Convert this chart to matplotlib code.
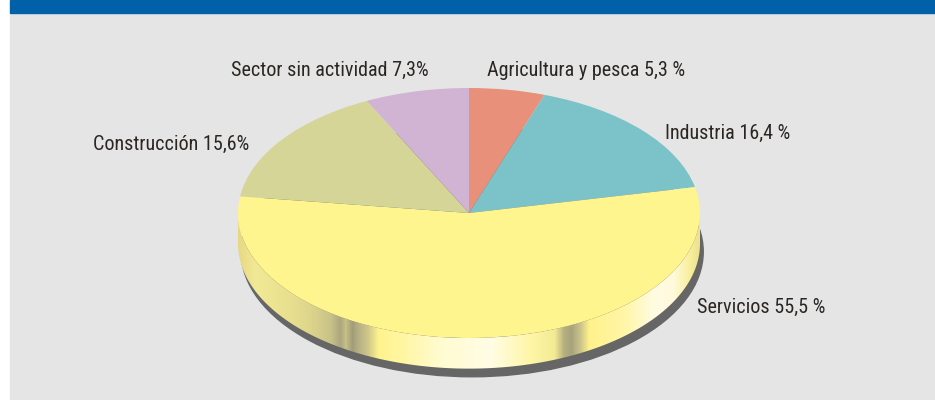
import numpy as np
import matplotlib
matplotlib.use("Agg")
import matplotlib.pyplot as plt
from matplotlib import font_manager as fm
from matplotlib.patches import Rectangle, Polygon, Ellipse
from matplotlib.colors import LinearSegmentedColormap

# ---- data ----
categories = ["Agricultura y pesca", "Industria", "Servicios", "Construcción", "Sector sin actividad"]
values = [5.3, 16.4, 55.5, 15.6, 7.3]
label_texts = ["Agricultura y pesca 5,3 %", "Industria 16,4 %", "Servicios 55,5 %",
               "Construcción 15,6%", "Sector sin actividad 7,3%"]
colors = ["#e8907a", "#7bc3c8", "#fff58e", "#d5d598", "#d1b3d4"]

available = {f.name for f in fm.fontManager.ttflist}
candidates = ["Roboto Condensed", "Open Sans Condensed", "DejaVu Sans Condensed",
              "Liberation Sans Narrow", "Roboto", "Liberation Sans", "DejaVu Sans"]
family = next((c for c in candidates if c in available), "DejaVu Sans")
plt.rcParams['font.family'] = [family, 'DejaVu Sans']

W, H = 935, 400
fig = plt.figure(figsize=(W / 100, H / 100), dpi=100)

# background
bg = fig.add_axes([0, 0, 1, 1])
bg.set_xlim(0, W)
bg.set_ylim(H, 0)
bg.axis("off")
bg.add_patch(Rectangle((0, 0), W, H, color="white"))
bg.add_patch(Rectangle((10, 13), W - 10, H - 13, color="#e5e5e5"))
bg.add_patch(Rectangle((10, 0), W - 10, 13, color="#0060a8"))

# pie axes: centre at pixel (469,213), radii 231 x 125 px
cx, cy, rx, ry = 469, 213, 231, 125
ax = fig.add_axes([0, 0, 1, 1])
ax.patch.set_alpha(0)
depth = 0.245

# shadow
ax.add_patch(Ellipse((0.014, -depth - 0.065), 2, 2, color="#666666", zorder=1))

# side wall
t = np.linspace(np.pi, 2 * np.pi, 400)
upper = np.column_stack([np.cos(t), np.sin(t)])
lower = np.column_stack([np.cos(t[::-1]), np.sin(t[::-1]) - depth])
side = Polygon(np.vstack([upper, lower]), closed=True, facecolor="none", edgecolor="none", zorder=2)
ax.add_patch(side)

stops_px = [238, 255, 285, 310, 330, 340, 345, 352, 360, 368, 378, 400, 440, 490, 530,
            555, 565, 572, 580, 590, 625, 655, 675, 690, 700]
stops_col = ["#e6d985", "#f2e996", "#eae190", "#ddd58c", "#c9c288", "#aca67e", "#c8c188",
             "#a29c7a", "#bdb685", "#cfc78a", "#fff38d", "#fff6a0", "#fffbd0", "#fffde6",
             "#fff6a8", "#f4eb95", "#b5ae80", "#a8a27c", "#c6bf88", "#fff28c", "#fff6a6",
             "#fffce2", "#fffadc", "#f9ef9e", "#eee290"]
pos = [(p - 238) / (700 - 238) for p in stops_px]
cmap = LinearSegmentedColormap.from_list("side", list(zip(pos, stops_col)))
grad = np.linspace(0, 1, 800)[None, :]
im = ax.imshow(grad, cmap=cmap, aspect="auto", extent=(-1, 1, -1 - depth, 0.0),
               interpolation="bilinear", zorder=2)
im.set_clip_path(side)

# top surface
wedges, _ = ax.pie(values, colors=colors, startangle=90, counterclock=False,
                   radius=1, center=(0, 0), wedgeprops=dict(linewidth=0))
for w in wedges:
    w.set_zorder(3)

ax.set_aspect("auto")
ax.set_xlim(-cx / rx, (W - cx) / rx)
ax.set_ylim(-(H - cy) / ry, cy / ry)
ax.axis("off")

# choose a font size so that the label widths match the reference
renderer = fig.canvas.get_renderer()
probe = bg.text(0, 0, label_texts[4], fontsize=10)
w10 = probe.get_window_extent(renderer).width
probe.remove()
fsize = min(16.5, 10 * 196 / w10)

txt_kw = dict(fontsize=fsize, color="#2a2622", va="baseline")
bg.text(487, 76, label_texts[0], ha="left", **txt_kw)
bg.text(665, 139, label_texts[1], ha="left", **txt_kw)
bg.text(697, 313, label_texts[2], ha="left", **txt_kw)
bg.text(249, 150, label_texts[3], ha="right", **txt_kw)
bg.text(429, 76, label_texts[4], ha="right", **txt_kw)

fig.savefig("out.png", dpi=100)
